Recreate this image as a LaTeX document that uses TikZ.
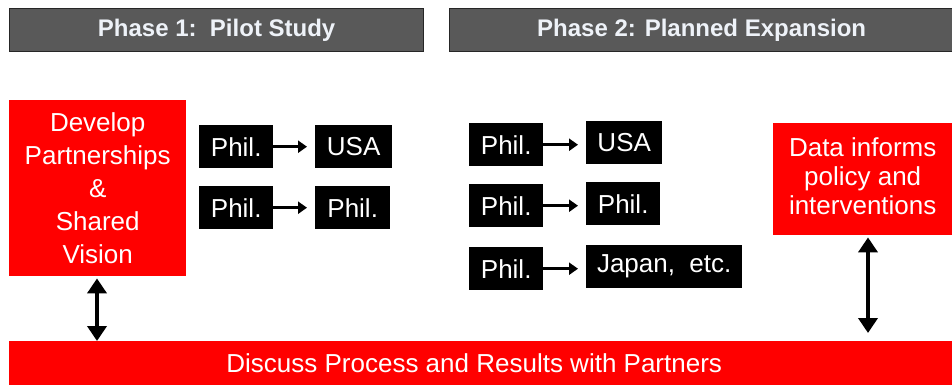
\documentclass[tikz,border=0pt]{standalone}
\usepackage{fontspec}
\setmainfont{Liberation Sans}
\usetikzlibrary{arrows.meta}

\definecolor{hdrgray}{HTML}{595959}
\definecolor{hdrtext}{HTML}{EEF2F8}

\begin{document}
\begin{tikzpicture}[x=1pt, y=-1pt,
	phase/.style={draw=black!85, line width=1.3pt, fill=hdrgray, text=hdrtext, inner sep=0pt, anchor=north west, minimum height=43pt, font=\fontsize{24}{28}\selectfont\bfseries},
	redbox/.style={fill=red, text=white, inner sep=0pt, anchor=north west, align=center},
	country/.style={fill=black, text=white, inner sep=0pt, anchor=north west, minimum height=43pt, font=\fontsize{26}{30}\selectfont},
	flow/.style={line width=2.8pt, -{Triangle[length=9pt, width=12pt]}, shorten >=8pt},
	link/.style={line width=4.5pt, {Triangle[length=15pt, width=19pt]}-{Triangle[length=15pt, width=19pt]}}
]

\useasboundingbox (0,0) rectangle (952,389);

\node[phase, minimum width=414pt] (Phase1) at (9,8) {Phase 1:\ \ Pilot Study};
\node[phase, minimum width=520pt] (Phase2) at (449,8) {\hspace*{-16pt}Phase 2: Planned Expansion};

\node[redbox, minimum width=177pt, minimum height=176pt, font=\fontsize{26}{33}\selectfont] (Partner) at (9,100) {Develop\\Partnerships\\\&\\Shared\\Vision};
\node[redbox, minimum width=185pt, minimum height=112pt, font=\fontsize{26}{29}\selectfont] (Data) at (773,123) {\hspace*{-6pt}\begin{tabular}{@{}c@{}}Data informs\\policy and\\interventions\end{tabular}};
\node[redbox, minimum width=950pt, minimum height=44pt, font=\fontsize{26}{30}\selectfont] (Discuss) at (9,341) {\hspace*{-20pt}Discuss Process and Results with Partners};

\foreach \y/\dest/\w[count=\i] in {125/USA/77, 186/Phil./75} {
	\node[country, minimum width=74pt] (PilotFrom\i) at (199,\y) {Phil.};
	\node[country, minimum width=\w pt] (PilotTo\i) at (315,\y) {\dest};
	\draw[flow] (PilotFrom\i) -- (PilotTo\i);
}

\foreach \y/\dest/\w[count=\i] in {123/USA/76, 184/Phil./74, 247/{Japan,\ \ etc.}/156} {
	\node[country, minimum width=74pt] (ExpFrom\i) at (469,\y) {Phil.};
	\node[country, minimum width=\w pt] (ExpTo\i) at (586,{\y-2}) {\dest};
	\draw[flow] (ExpFrom\i) -- (ExpFrom\i -| ExpTo\i.west);
}

\draw[link] (Partner.south -| 97,0) ++(0,2) coordinate (PartnerEnd) -- (PartnerEnd |- Discuss.north);
\draw[link] (Data.south -| 868,0) ++(0,2) coordinate (DataEnd) -- ([yshift=8pt]DataEnd |- Discuss.north);

\end{tikzpicture}
\end{document}
